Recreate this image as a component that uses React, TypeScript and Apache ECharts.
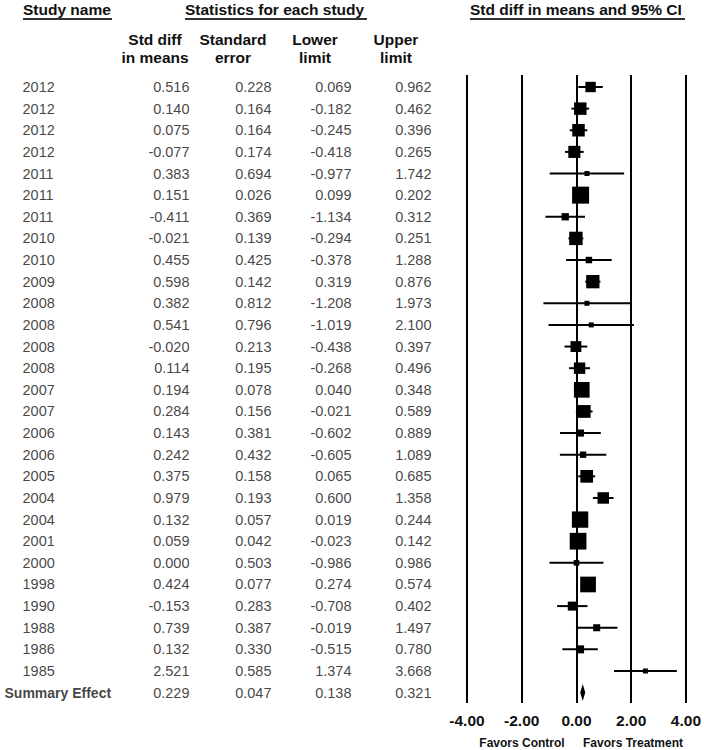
import React, { useEffect, useRef } from "react";
import * as echarts from "echarts";

const studyYears = ["2012","2012","2012","2012","2011","2011","2011","2010","2010","2009","2008","2008","2008","2008","2007","2007","2006","2006","2005","2004","2004","2001","2000","1998","1990","1988","1986","1985"];
const stdDiff = [0.516,0.140,0.075,-0.077,0.383,0.151,-0.411,-0.021,0.455,0.598,0.382,0.541,-0.020,0.114,0.194,0.284,0.143,0.242,0.375,0.979,0.132,0.059,0.000,0.424,-0.153,0.739,0.132,2.521];
const stdErr = [0.228,0.164,0.164,0.174,0.694,0.026,0.369,0.139,0.425,0.142,0.812,0.796,0.213,0.195,0.078,0.156,0.381,0.432,0.158,0.193,0.057,0.042,0.503,0.077,0.283,0.387,0.330,0.585];
const lowerLimit = [0.069,-0.182,-0.245,-0.418,-0.977,0.099,-1.134,-0.294,-0.378,0.319,-1.208,-1.019,-0.438,-0.268,0.040,-0.021,-0.602,-0.605,0.065,0.600,0.019,-0.023,-0.986,0.274,-0.708,-0.019,-0.515,1.374];
const upperLimit = [0.962,0.462,0.396,0.265,1.742,0.202,0.312,0.251,1.288,0.876,1.973,2.100,0.397,0.496,0.348,0.589,0.889,1.089,0.685,1.358,0.244,0.142,0.986,0.574,0.402,1.497,0.780,3.668];

const summaryLabel = "Summary Effect";
const summaryStats = [0.229, 0.047, 0.138, 0.321]; // std diff, SE, lower, upper

const xTicks = [-4, -2, 0, 2, 4];
const headerTitles = ["Study name", "Statistics for each study", "Std diff in means and 95% CI"];
const columnHeaders = [["Std diff", "in means"], ["Standard", "error"], ["Lower", "limit"], ["Upper", "limit"]];
const favorLabels = ["Favors Control", "Favors Treatment"];

const FONT = '"Liberation Sans", Arial, sans-serif';
const TAU2 = 0.03;

export default function App() {
  const ref = useRef<HTMLDivElement>(null);

  useEffect(() => {
    if (!ref.current) return;
    const chart = echarts.init(ref.current, null, { renderer: "svg" });

    const nRows = studyYears.length + 1;
    const yMin = -0.555;
    const yMax = 28.48;
    const wMax = 1 / (Math.min(...stdErr) ** 2 + TAU2);
    const boxSize = (se: number) => Math.max(5, 17 * Math.sqrt(1 / (se * se + TAU2) / wMax));

    const studyData = stdDiff.map((v, i) => [v, lowerLimit[i], upperLimit[i], stdErr[i], i]);
    const summaryRow = studyYears.length;

    const colRight = [190, 272, 352, 432];
    const allCols = [
      stdDiff.concat([summaryStats[0]]),
      stdErr.concat([summaryStats[1]]),
      lowerLimit.concat([summaryStats[2]]),
      upperLimit.concat([summaryStats[3]]),
    ];

    const textSeries: any[] = allCols.map((col, c) => ({
      type: "scatter",
      xAxisIndex: 1,
      yAxisIndex: 1,
      silent: true,
      symbol: "rect",
      symbolSize: 1,
      itemStyle: { color: "rgba(0,0,0,0)" },
      data: col.map((v, i) => [colRight[c], i, v.toFixed(3)]),
      label: {
        show: true,
        position: "left",
        distance: 0,
        formatter: (p: any) => p.value[2],
        color: "#111",
        fontFamily: FONT,
        fontSize: 14.5,
      },
    }));

    textSeries.push({
      type: "scatter",
      xAxisIndex: 1,
      yAxisIndex: 1,
      silent: true,
      symbol: "rect",
      symbolSize: 1,
      itemStyle: { color: "rgba(0,0,0,0)" },
      data: studyYears.map((y, i) => [22, i, y]),
      label: {
        show: true,
        position: "right",
        distance: 0,
        formatter: (p: any) => p.value[2],
        color: "#111",
        fontFamily: FONT,
        fontSize: 14.5,
      },
    });
    textSeries.push({
      type: "scatter",
      xAxisIndex: 1,
      yAxisIndex: 1,
      silent: true,
      symbol: "rect",
      symbolSize: 1,
      itemStyle: { color: "rgba(0,0,0,0)" },
      data: [[4, summaryRow, summaryLabel]],
      label: {
        show: true,
        position: "right",
        distance: 0,
        formatter: (p: any) => p.value[2],
        color: "#111",
        fontFamily: FONT,
        fontSize: 14,
        fontWeight: "bold",
      },
    });

    const hText = (text: string, x: number, y: number, size: number, align: string) => ({
      type: "text",
      x,
      y,
      silent: true,
      style: {
        text,
        font: `bold ${size}px ${FONT}`,
        fill: "#111",
        align,
        textAlign: align,
        verticalAlign: "middle",
        textVerticalAlign: "middle",
      },
    });
    const uLine = (x1: number, x2: number, y: number) => ({
      type: "line",
      silent: true,
      shape: { x1, y1: y, x2, y2: y },
      style: { stroke: "#333", lineWidth: 2 },
    });

    const subCenters = [155, 233, 315, 396];
    const graphics: any[] = [
      hText(headerTitles[0], 23, 9, 15.5, "left"),
      uLine(23, 112, 19),
      hText(headerTitles[1], 185, 9, 15.5, "left"),
      uLine(185, 367, 19),
      hText(headerTitles[2], 470, 9, 15.5, "left"),
      uLine(470, 685, 19),
    ];
    columnHeaders.forEach((lines, c) => {
      graphics.push(hText(lines[0], subCenters[c], 39, 15.5, "center"));
      graphics.push(hText(lines[1], subCenters[c], 57, 15.5, "center"));
    });
    graphics.push(hText(favorLabels[0], 522, 743, 12, "center"));
    graphics.push(hText(favorLabels[1], 633, 743, 12, "center"));

    const option: any = {
      animation: false,
      backgroundColor: "#fff",
      grid: [
        { left: 467, right: 17, top: 75, bottom: 47 },
        { left: 0, width: 460, top: 75, bottom: 47 },
      ],
      xAxis: [
        {
          type: "value",
          gridIndex: 0,
          min: -4,
          max: 4,
          interval: 2,
          axisLine: { show: false },
          axisTick: { show: false },
          splitLine: { show: true, showMinLine: true, showMaxLine: true, lineStyle: { color: "#000", width: 2 } },
          axisLabel: {
            show: true,
            margin: 9,
            color: "#111",
            fontFamily: FONT,
            fontSize: 15.5,
            fontWeight: "bold",
            formatter: (v: number) => (xTicks.includes(v) ? v.toFixed(2) : ""),
          },
        },
        { type: "value", gridIndex: 1, min: 0, max: 460, show: false },
      ],
      yAxis: [
        { type: "value", gridIndex: 0, min: yMin, max: yMax, inverse: true, show: false },
        { type: "value", gridIndex: 1, min: yMin, max: yMax, inverse: true, show: false },
      ],
      graphic: graphics,
      series: [
        {
          type: "custom",
          xAxisIndex: 0,
          yAxisIndex: 0,
          silent: true,
          encode: { x: [0, 1, 2], y: 4 },
          data: studyData,
          renderItem: (params: any, api: any) => {
            const m = api.value(0), lo = api.value(1), hi = api.value(2), se = api.value(3), r = api.value(4);
            const pLo = api.coord([lo, r]);
            const pHi = api.coord([hi, r]);
            const pM = api.coord([m, r]);
            const s = boxSize(se);
            return {
              type: "group",
              children: [
                { type: "line", shape: { x1: pLo[0], y1: pLo[1], x2: pHi[0], y2: pHi[1] }, style: { stroke: "#000", lineWidth: 2 } },
                { type: "rect", shape: { x: pM[0] - s / 2, y: pM[1] - s / 2, width: s, height: s }, style: { fill: "#000" } },
              ],
            };
          },
        },
        {
          type: "custom",
          xAxisIndex: 0,
          yAxisIndex: 0,
          silent: true,
          encode: { x: [0, 1, 2], y: 3 },
          data: [[summaryStats[0], summaryStats[2], summaryStats[3], summaryRow]],
          renderItem: (params: any, api: any) => {
            const m = api.value(0), lo = api.value(1), hi = api.value(2), r = api.value(3);
            const pLo = api.coord([lo, r]);
            const pHi = api.coord([hi, r]);
            const pM = api.coord([m, r]);
            const h = 8.5;
            return {
              type: "polygon",
              shape: { points: [[pLo[0], pM[1]], [pM[0], pM[1] - h], [pHi[0], pM[1]], [pM[0], pM[1] + h]] },
              style: { fill: "#000" },
            };
          },
        },
        ...textSeries,
      ],
    };
    void nRows;
    chart.setOption(option);
    return () => chart.dispose();
  }, []);

  return (
    <div
      ref={ref}
      style={{ position: "fixed", left: 0, top: 0, width: 704, height: 750, background: "#fff" }}
    />
  );
}
